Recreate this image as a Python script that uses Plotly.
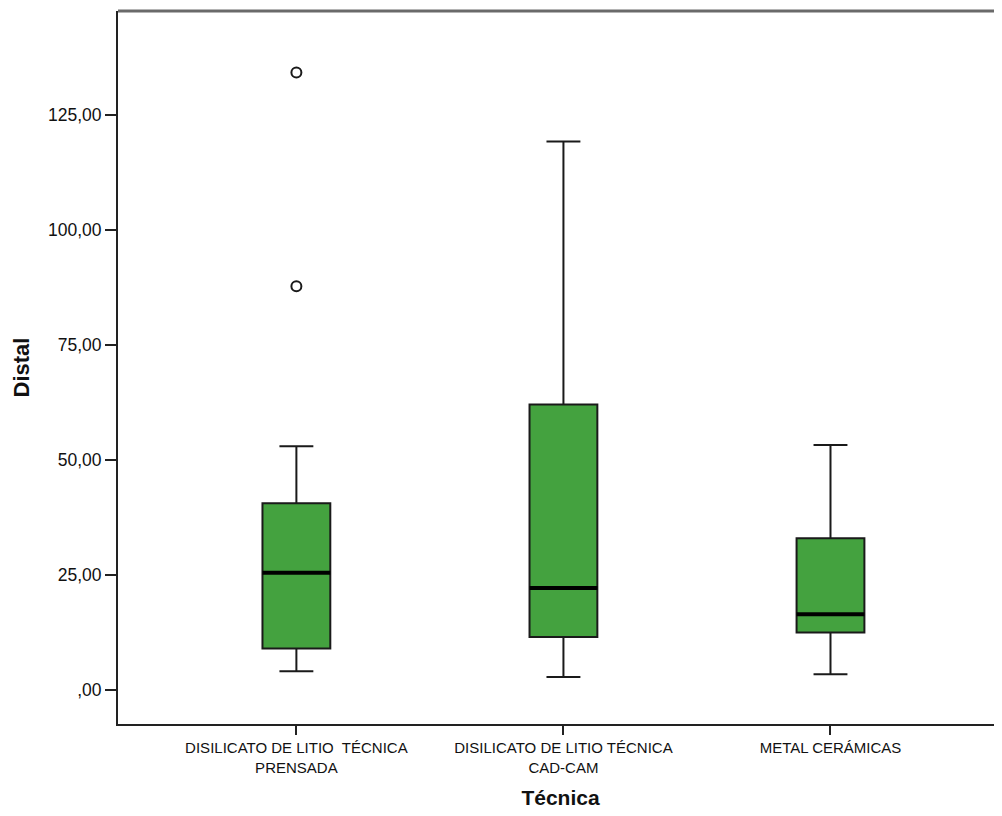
import plotly.graph_objects as go

categories = ["DISILICATO DE LITIO  TÉCNICA<br>PRENSADA",
              "DISILICATO DE LITIO TÉCNICA<br>CAD-CAM",
              "METAL CERÁMICAS"]
lower_whisker = [4.1, 2.8, 3.4]
q1 = [9.0, 11.5, 12.5]
median = [25.5, 22.2, 16.5]
q3 = [40.6, 62.1, 33.0]
upper_whisker = [53.0, 119.3, 53.3]
outlier_cat = [0, 0]
outlier_val = [134.3, 87.8]
y_tickvals = [0, 25, 50, 75, 100, 125]
y_ticktext = [",00", "25,00", "50,00", "75,00", "100,00", "125,00"]

positions = list(range(len(categories)))
box_w = 0.254
green = "#44a23f"
dark = "#1a1a1a"

fig = go.Figure()
fig.add_trace(go.Box(
    x=positions, q1=q1, median=median, q3=q3,
    lowerfence=lower_whisker, upperfence=upper_whisker,
    width=box_w, whiskerwidth=0.5,
    fillcolor=green, line=dict(color=dark, width=2),
    boxpoints=False, showlegend=False, hoverinfo="skip",
))
for p, m in zip(positions, median):
    fig.add_trace(go.Scatter(
        x=[p - box_w / 2, p + box_w / 2], y=[m, m], mode="lines",
        line=dict(color="#000000", width=4), showlegend=False, hoverinfo="skip",
    ))
fig.add_trace(go.Scatter(
    x=[positions[i] for i in outlier_cat], y=outlier_val, mode="markers",
    marker=dict(symbol="circle-open", size=10, color=dark, line=dict(width=2)),
    showlegend=False, hoverinfo="skip",
))

fig.add_shape(type="line", xref="paper", yref="paper", x0=0, x1=1, y0=1, y1=1,
              line=dict(color="#6a6a6a", width=3))

fig.update_layout(
    width=1002, height=816,
    margin=dict(l=110, r=7, t=3, b=100),
    paper_bgcolor="white", plot_bgcolor="white",
    font=dict(family="Liberation Sans, Arial, sans-serif", color="#222"),
    xaxis=dict(
        range=[-0.668, 2.646], tickmode="array", tickvals=positions, ticktext=categories,
        showline=True, linecolor="#222", linewidth=2, ticks="outside", ticklen=9,
        tickwidth=1.5, tickcolor="#222", showgrid=False, zeroline=False,
        tickfont=dict(size=15, color="#111"),
        title=dict(text="<b>Técnica</b>", font=dict(size=21, color="#111"), standoff=16),
    ),
    yaxis=dict(
        range=[-7.4, 147.7], tickmode="array", tickvals=y_tickvals, ticktext=y_ticktext,
        showline=True, linecolor="#222", linewidth=2, ticks="outside", ticklen=11,
        tickwidth=2, tickcolor="#222", showgrid=False, zeroline=False,
        tickfont=dict(size=17.5, color="#111"),
        title=dict(text="<b>Distal</b>", font=dict(size=22, color="#111"), standoff=12),
    ),
)

fig.write_html("out.html")
